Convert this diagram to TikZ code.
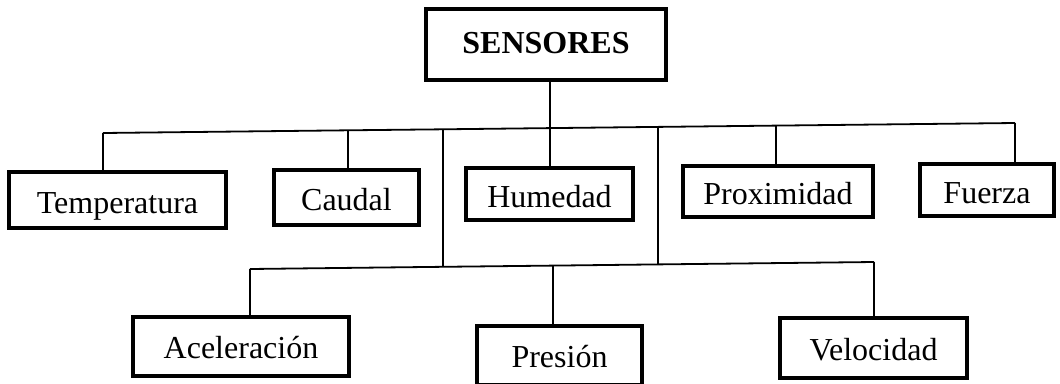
\documentclass[tikz,border=0pt]{standalone}
\usepackage{fontspec}
\setmainfont{Liberation Serif}
\begin{document}
\begin{tikzpicture}[x=1bp,y=-1bp,
  box/.style={draw=black, line width=4.5bp, rectangle, inner sep=0pt,
    font=\fontsize{32bp}{36bp}\selectfont, text depth=0pt, text height=26bp},
  headbox/.style={box, font=\fontsize{32bp}{36bp}\selectfont\bfseries, text height=17bp},
  lowbox/.style={box, text height=24bp},
  link/.style={draw=black, line width=1.8bp}]
\useasboundingbox (0,0) rectangle (1060,383);
\fill[white] (0,0) rectangle (1060,383);

% root
\node[headbox, minimum width=240bp, minimum height=71bp] (sens) at (546,44.5) {SENSORES};

% first level
\node[box, minimum width=217bp, minimum height=56bp] (temp) at (117.5,200) {Temperatura};
\node[box, minimum width=145bp, minimum height=55bp] (caud) at (346.5,197.5) {Caudal};
\node[box, minimum width=167bp, minimum height=52bp] (hume) at (549.5,194) {Humedad};
\node[box, minimum width=190bp, minimum height=51bp] (prox) at (778,191.5) {Proximidad};
\node[box, minimum width=134bp, minimum height=52bp] (fuer) at (987,190) {Fuerza};

% second level
\node[lowbox, minimum width=216bp, minimum height=59bp] (acel) at (241,346.5) {Aceleración};
\node[lowbox, minimum width=165bp, minimum height=59bp] (pres) at (559.5,355.5) {Presión};
\node[lowbox, minimum width=187bp, minimum height=60bp] (velo) at (873.5,348) {Velocidad};

% junctions on the upper bus
\coordinate (t1) at (103,133);
\coordinate (t2) at (348,130.3);
\coordinate (t3) at (443,129.3);
\coordinate (t4) at (550,128.1);
\coordinate (t5) at (658,126.9);
\coordinate (t6) at (776,125.6);
\coordinate (t7) at (1015,123);

% junctions on the lower bus
\coordinate (b1) at (250,269);
\coordinate (b2) at (443,266.8);
\coordinate (b3) at (553,265.6);
\coordinate (b4) at (658,264.4);
\coordinate (b5) at (874,262);

% upper bus and its drops
\draw[link] (t4 |- sens.south) -- (t4);
\draw[link] (t1) -- (t2) -- (t3) -- (t4) -- (t5) -- (t6) -- (t7);
\draw[link] (t1) -- (t1 |- temp.north);
\draw[link] (t2) -- (t2 |- caud.north);
\draw[link] (t4) -- (t4 |- hume.north);
\draw[link] (t6) -- (t6 |- prox.north);
\draw[link] (t7) -- (t7 |- fuer.north);

% risers down to the lower bus
\draw[link] (t3) -- (b2);
\draw[link] (t5) -- (b4);

% lower bus and its drops
\draw[link] (b1) -- (b2) -- (b3) -- (b4) -- (b5);
\draw[link] (b1) -- (b1 |- acel.north);
\draw[link] (b3) -- (b3 |- pres.north);
\draw[link] (b5) -- (b5 |- velo.north);
\end{tikzpicture}
\end{document}
